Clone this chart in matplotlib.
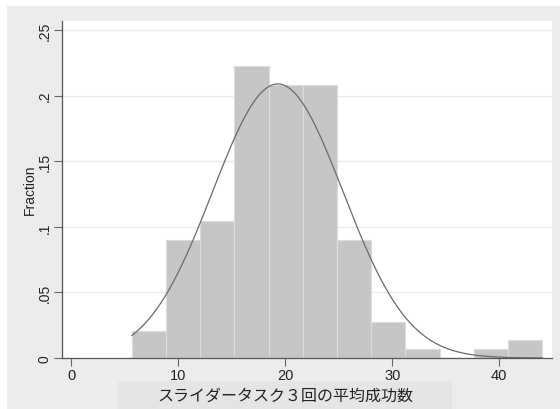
import numpy as np
import matplotlib
matplotlib.use("Agg")
import matplotlib.pyplot as plt
from matplotlib.patches import Rectangle

# ---- data ----
bin_start = 17 / 3
bin_end = 44.0
n_bins = 12
fractions = [3/144, 13/144, 15/144, 32/144, 30/144, 30/144, 13/144,
             4/144, 1/144, 0.0, 1/144, 2/144]
fit_mean = 19.3
fit_sd = 6.1
yticks = [0, 0.05, 0.1, 0.15, 0.2, 0.25]
ytick_labels = ["0", ".05", ".1", ".15", ".2", ".25"]
xticks = [0, 10, 20, 30, 40]
xtick_labels = ["0", "10", "20", "30", "40"]
xlabel = "スライダータスク３回の平均成功数"
ylabel = "Fraction"

plt.rcParams['font.family'] = ['Liberation Sans', 'Noto Sans CJK JP', 'DejaVu Sans']

W, H = 560, 410
fig = plt.figure(figsize=(W / 100, H / 100), dpi=100, facecolor="white")

# outer gray panel
fig.patches.append(Rectangle((7 / W, 0), 1, (H - 7) / H, transform=fig.transFigure,
                             facecolor="#ececec", edgecolor="none", zorder=-2))
# x-label box
fig.patches.append(Rectangle((118 / W, 0), (452 - 118) / W, (H - 382) / H,
                             transform=fig.transFigure, facecolor="#e4e5e7",
                             edgecolor="none", zorder=-1))

ax = fig.add_axes([62 / W, (H - 359) / H, (552 - 62) / W, (359 - 22) / H])
ax.set_zorder(2)
ax.set_facecolor("white")

edges = np.linspace(bin_start, bin_end, n_bins + 1)
width = edges[1] - edges[0]
ax.bar(edges[:-1], fractions, width=width, align="edge", color="#c5c6c8",
       edgecolor="#dcdcdc", linewidth=0.8, zorder=2)

xs = np.linspace(bin_start, bin_end, 300)
ys = width * np.exp(-(xs - fit_mean) ** 2 / (2 * fit_sd ** 2)) / (fit_sd * np.sqrt(2 * np.pi))
ax.plot(xs, ys, color="#6a6a6a", linewidth=0.9, zorder=3)

ax.set_xlim(-0.87, 44.93)
ax.set_ylim(0, 0.2569)

for y in yticks[1:]:
    ax.axhline(y, color="#ebebeb", linewidth=1.0, zorder=1)

ax.set_yticks(yticks)
ax.set_yticklabels(ytick_labels, rotation=90, va="center", fontsize=10, color="#222222")
ax.set_xticks(xticks)
ax.set_xticklabels(xtick_labels, fontsize=10.5, color="#222222")
ax.tick_params(axis="both", length=6, width=0.8, color="#666666")
ax.tick_params(axis="x", pad=1.5)
ax.tick_params(axis="y", pad=1.5)

for s in ["top", "right"]:
    ax.spines[s].set_visible(False)
for s in ["left", "bottom"]:
    ax.spines[s].set_color("#555555")
    ax.spines[s].set_linewidth(0.9)

fig.text(30 / W, (H - 190) / H, ylabel, rotation=90, ha="center", va="center",
         fontsize=10, color="#222222")
fig.text(285 / W, (H - 396) / H, xlabel, ha="center", va="center",
         fontsize=11.5, color="#222222", family=['Noto Sans CJK JP', 'DejaVu Sans'])

fig.savefig("out.png", dpi=100, facecolor="white")
